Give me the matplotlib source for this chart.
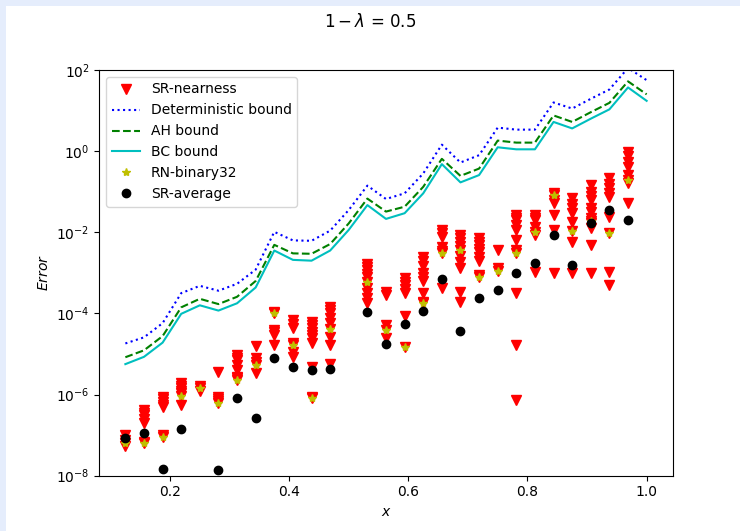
import numpy as np
import matplotlib
matplotlib.use("Agg")
import matplotlib.pyplot as plt
from matplotlib.patches import Rectangle
from matplotlib.ticker import FixedLocator, NullLocator, LogFormatterSciNotation

# x grid of the bound curves
x_bounds = [0.125, 0.15625, 0.1875, 0.21875, 0.25, 0.28125, 0.3125, 0.34375,
            0.375, 0.40625, 0.4375, 0.46875, 0.5, 0.53125, 0.5625, 0.59375,
            0.625, 0.65625, 0.6875, 0.71875, 0.75, 0.78125, 0.8125, 0.84375,
            0.875, 0.90625, 0.9375, 0.96875, 1.0]

# log10 of bound values
det_log10 = [-4.74, -4.59, -4.24, -3.50, -3.32, -3.44, -3.27, -2.92, -1.99, -2.20,
             -2.21, -1.96, -1.45, -0.85, -1.18, -1.04, -0.55, 0.16, -0.28, -0.10,
             0.58, 0.53, 0.53, 1.20, 1.05, 1.29, 1.52, 2.05, 1.75]
ah_log10 = [-5.08, -4.91, -4.56, -3.85, -3.64, -3.77, -3.59, -3.20, -2.31, -2.52,
            -2.53, -2.29, -1.78, -1.17, -1.49, -1.37, -0.88, -0.19, -0.61, -0.43,
            0.26, 0.21, 0.21, 0.88, 0.72, 0.96, 1.19, 1.72, 1.40]
bc_log10 = [-5.25, -5.07, -4.72, -4.01, -3.80, -3.93, -3.75, -3.36, -2.45, -2.68,
            -2.70, -2.45, -1.94, -1.33, -1.67, -1.53, -1.04, -0.32, -0.77, -0.59,
            0.095, 0.045, 0.045, 0.72, 0.56, 0.80, 1.03, 1.57, 1.24]

# x positions of the experimental samples
x_samples = [0.125, 0.15625, 0.1875, 0.21875, 0.25, 0.28125, 0.3125, 0.34375,
             0.375, 0.40625, 0.4375, 0.46875, 0.53125, 0.5625, 0.59375, 0.625,
             0.65625, 0.6875, 0.71875, 0.75, 0.78125, 0.8125, 0.84375, 0.875,
             0.90625, 0.9375, 0.96875]

sr_average_log10 = [-7.08, -6.94, -7.83, -6.86, np.nan, -7.87, -6.08, -6.59,
                    -5.11, -5.31, -5.39, -5.38, -3.96, -4.75, -4.26, -3.94,
                    -3.15, -4.43, -3.62, -3.42, -3.00, -2.76, -2.07, -2.81,
                    -1.78, -1.45, -1.70]

rn_binary32_log10 = [-7.20, -7.20, -7.05, -6.03, -5.85, -6.20, -5.64, -5.27,
                     -4.00, -4.78, -6.08, -4.39, -3.22, -4.41, -4.83, -3.74,
                     -2.50, -2.44, -3.11, -2.95, -2.52, -1.99, -1.08, -1.97,
                     -1.72, -2.03, -0.71]

sr_nearness_log10 = [
    [-7.00, -7.12, -7.20, -7.28],
    [-6.38, -6.45, -6.50, -6.60, -6.71, -7.16, -7.20],
    [-6.05, -6.12, -6.18, -6.25, -6.30, -7.00, -7.05],
    [-5.72, -5.78, -5.85, -5.92, -5.97, -6.03, -6.26],
    [-5.80, -5.85, -5.90],
    [-5.44, -6.05, -6.10, -6.15, -6.20],
    [-5.02, -5.10, -5.15, -5.27, -5.39, -5.56, -5.60, -5.64],
    [-4.80, -5.11, -5.19, -5.27, -5.48],
    [-3.96, -4.00, -4.41, -4.47, -4.53, -4.78],
    [-4.16, -4.25, -4.37, -4.72, -4.78, -4.94, -5.07],
    [-4.20, -4.28, -4.37, -4.45, -4.53, -4.60, -4.74, -5.31, -6.05, -6.08],
    [-3.83, -3.92, -4.00, -4.12, -4.24, -4.39, -4.57, -4.78, -5.25],
    [-2.78, -2.85, -2.93, -3.02, -3.10, -3.22, -3.38, -3.50, -3.63, -3.75],
    [-3.47, -3.55, -4.29, -4.41, -4.61],
    [-3.13, -3.22, -3.30, -3.40, -3.50, -4.06, -4.83],
    [-2.60, -2.70, -2.83, -3.00, -3.10, -3.20, -3.50, -3.71, -3.74],
    [-1.94, -2.02, -2.11, -2.36, -2.45, -2.50, -3.38],
    [-2.07, -2.15, -2.24, -2.34, -2.44, -2.58, -2.73, -2.88, -3.46, -3.71],
    [-2.15, -2.23, -2.31, -2.40, -2.49, -2.60, -2.72, -3.05, -3.11],
    [-2.44, -2.89, -2.95],
    [-1.57, -1.64, -1.70, -1.82, -1.94, -2.19, -2.44, -2.52, -3.50, -4.78, -6.13],
    [-1.57, -1.64, -1.70, -1.86, -1.99, -2.07, -2.97],
    [-1.04, -1.08, -1.20, -1.28, -1.57, -1.94, -3.01],
    [-1.16, -1.30, -1.41, -1.53, -1.74, -1.97, -2.23, -3.01],
    [-0.83, -1.00, -1.10, -1.20, -1.39, -1.50, -1.64, -1.72, -1.78, -1.90, -2.31, -3.01],
    [-0.67, -0.80, -0.92, -1.02, -1.12, -1.62, -2.03, -2.97, -3.30],
    [-0.01, -0.13, -0.26, -0.38, -0.59, -0.71, -0.79, -1.29],
]

yticks = [1e-8, 1e-6, 1e-4, 1e-2, 1e0, 1e2]

fig = plt.figure(figsize=(7.40, 5.31), dpi=100, facecolor="#e5edfc")
fig.patches.append(Rectangle((6 / 740, 0), 1 - 6 / 740, 1 - 6 / 531,
                             transform=fig.transFigure, facecolor="white",
                             edgecolor="none", zorder=-10))
ax = fig.add_axes([99.3 / 740, 1 - 475.7 / 531, (672.7 - 99.3) / 740, (475.7 - 70) / 531])

# SR-nearness triangles
sx, sy = [], []
for xv, vals in zip(x_samples, sr_nearness_log10):
    for v in vals:
        sx.append(xv)
        sy.append(10.0 ** v)
ax.plot(sx, sy, "rv", markersize=7, label="SR-nearness")

ax.plot(x_bounds, 10.0 ** np.array(det_log10), "b:", label="Deterministic bound")
ax.plot(x_bounds, 10.0 ** np.array(ah_log10), "g--", label="AH bound")
ax.plot(x_bounds, 10.0 ** np.array(bc_log10), "c-", label="BC bound")
ax.plot(x_samples, 10.0 ** np.array(rn_binary32_log10), "y*", label="RN-binary32")
ax.plot(x_samples, 10.0 ** np.array(sr_average_log10), "ko", label="SR-average")

ax.set_yscale("log")
ax.set_ylim(1e-8, 1e2)
ax.yaxis.set_major_locator(FixedLocator(yticks))
ax.yaxis.set_major_formatter(LogFormatterSciNotation())
ax.yaxis.set_minor_locator(NullLocator())
ax.set_xlabel("$x$")
ax.set_ylabel("$Error$")
ax.legend(loc="upper left")
fig.suptitle(r"$1-\lambda$ = 0.5", y=0.975)

fig.savefig("out.png", dpi=100, facecolor=fig.get_facecolor())
